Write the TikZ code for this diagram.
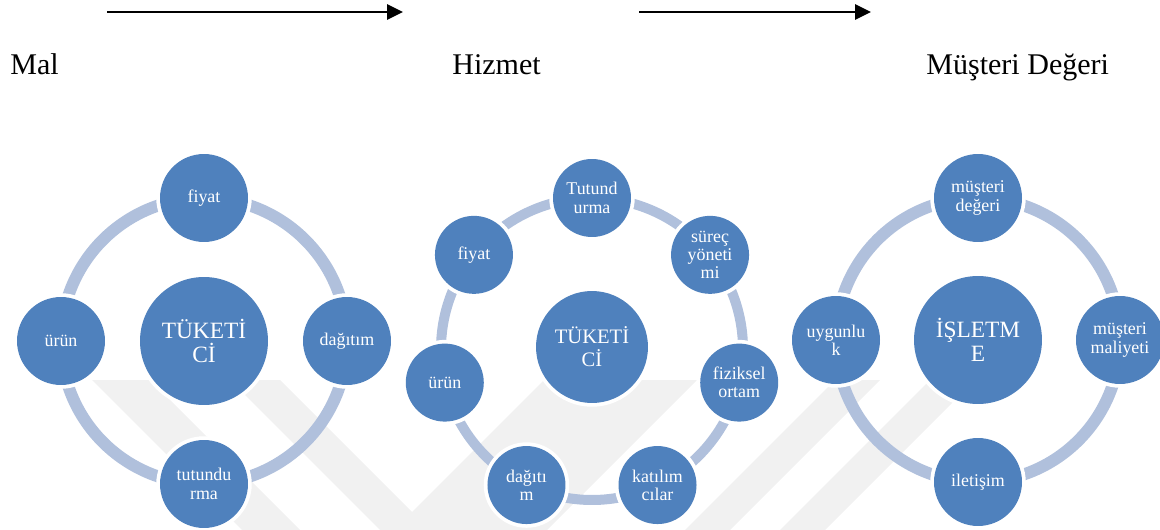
\documentclass[tikz,border=0pt]{standalone}
\usepackage{fontspec}
\setmainfont{Liberation Serif}
\usetikzlibrary{arrows.meta,backgrounds}
\definecolor{cblue}{RGB}{79,129,189}
\definecolor{cring}{RGB}{176,192,220}
\definecolor{wmark}{RGB}{241,241,241}
\begin{document}
\begin{tikzpicture}[x=0.02cm,y=-0.02cm,
  bub/.style={circle, fill=cblue, text=white, align=center, inner sep=0pt, outer sep=0pt,
              preaction={draw=white, line width=0.15cm}},
  bigA/.style={bub, minimum size=2.56cm, font=\fontsize{13.3}{13.8}\selectfont},
  bigB/.style={bub, minimum size=2.24cm, font=\fontsize{11.7}{13.2}\selectfont},
  smA/.style={bub, minimum size=1.76cm, font=\fontsize{10.2}{10.4}\selectfont},
  smB/.style={bub, minimum size=1.56cm, font=\fontsize{10.2}{10.4}\selectfont},
  ringA/.style={draw=cring, line width=0.24cm},
  ringB/.style={draw=cring, line width=0.2cm},
  toplab/.style={anchor=base west, inner sep=0pt, font=\fontsize{17.1}{20}\selectfont},
  flow/.style={line width=1.4pt, -{Triangle[length=9pt,width=8.5pt]}},
  wm/.style={fill=wmark, draw=none}]
\useasboundingbox (0,0) rectangle (1160,530);

% top row
\coordinate (s1) at (107,12);
\coordinate (e1) at (403,12);
\coordinate (s2) at (639,12);
\coordinate (e2) at (871,12);
\draw[flow] (s1) -- (e1);
\draw[flow] (s2) -- (e2);
\node[toplab] (mal) at (10,75) {Mal};
\node[toplab] (hiz) at (452,75) {Hizmet};
\node[toplab] (mde) at (926,75) {Müşteri Değeri};

% diagram 1
\node[bigA] (k1) at (204,341) {TÜKETİ\\Cİ};
\node[smA] (a1) at (204,198) {fiyat};
\node[smA] (a2) at (347,341) {dağıtım};
\node[smA] (a3) at (204,484) {tutundu\\rma};
\node[smA] (a4) at (61,341) {ürün};

% diagram 2
\node[bigB] (k2) at (592,347) {TÜKETİ\\Cİ};
\node[smB] (h1) at (592,198) {Tutund\\urma};
\node[smB] (h2) at (710.06,254.85) {süreç\\yöneti\\mi};
\node[smB] (h3) at (739.21,382.6) {fiziksel\\ortam};
\node[smB] (h4) at (657.52,485.05) {katılım\\cılar};
\node[smB] (h5) at (526.48,485.05) {dağıtı\\m};
\node[smB] (h6) at (444.79,382.6) {ürün};
\node[smB] (h7) at (473.94,254.85) {fiyat};

% diagram 3
\node[bigA] (k3) at (978,340) {İŞLETM\\E};
\node[smA] (b1) at (978,198) {müşteri\\değeri};
\node[smA] (b2) at (1120,340) {müşteri\\maliyeti};
\node[smA] (b3) at (978,482) {iletişim};
\node[smA] (b4) at (836,340) {uygunlu\\k};

\begin{pgfonlayer}{background}
  % watermark
  \path[wm] (92,380) -- (150,380) -- (300,530) -- (242,530) -- cycle;
  \path[wm] (230,380) -- (280,380) -- (412,512) -- (544,380) -- (697,380)
            -- (547,530) -- (380,530) -- cycle;
  \path[wm] (835,380) -- (880,380) -- (730,530) -- (685,530) -- cycle;
  \path[wm] (930,380) -- (975,380) -- (825,530) -- (780,530) -- cycle;
  % rings
  \draw[ringA] (a1.center) arc[start angle=90,end angle=0,radius=2.86cm];
  \draw[ringA] (a2.center) arc[start angle=0,end angle=-90,radius=2.86cm];
  \draw[ringA] (a3.center) arc[start angle=-90,end angle=-180,radius=2.86cm];
  \draw[ringA] (a4.center) arc[start angle=180,end angle=90,radius=2.86cm];
  \foreach \p/\a/\b in {h1/90/38.571, h2/38.571/-12.857, h3/-12.857/-64.286,
                        h4/-64.286/-115.714, h5/-115.714/-167.143,
                        h6/192.857/141.429, h7/141.429/90}
    \draw[ringB] (\p.center) arc[start angle=\a,end angle=\b,radius=3.02cm];
  \draw[ringA] (b1.center) arc[start angle=90,end angle=0,radius=2.84cm];
  \draw[ringA] (b2.center) arc[start angle=0,end angle=-90,radius=2.84cm];
  \draw[ringA] (b3.center) arc[start angle=-90,end angle=-180,radius=2.84cm];
  \draw[ringA] (b4.center) arc[start angle=180,end angle=90,radius=2.84cm];
\end{pgfonlayer}
\end{tikzpicture}
\end{document}
